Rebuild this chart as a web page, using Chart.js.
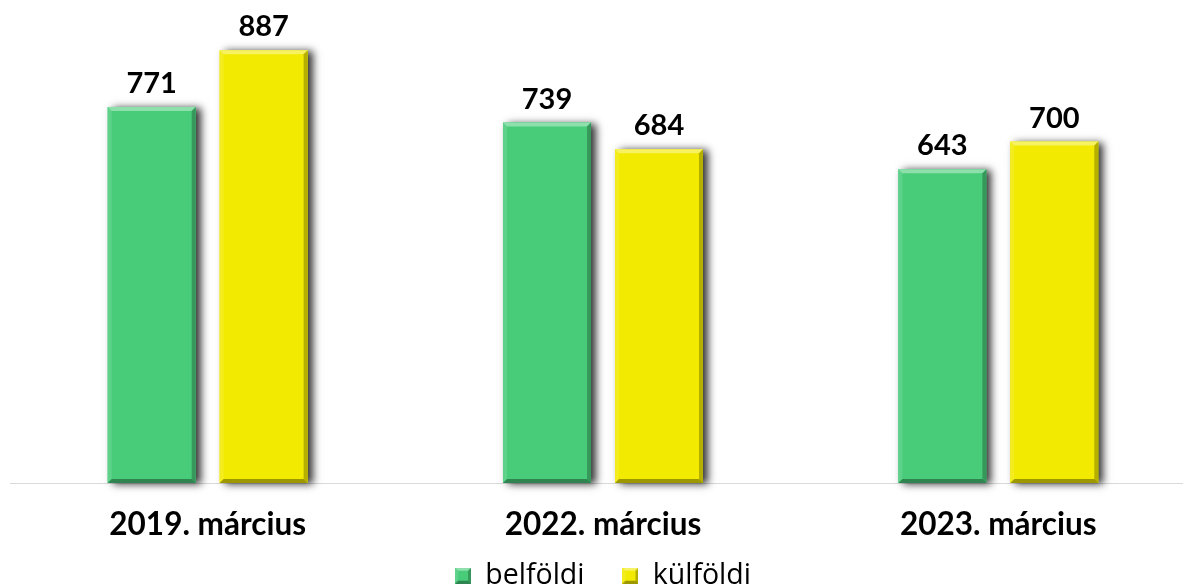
<!DOCTYPE html>
<html>
<head>
<meta charset="utf-8">
<script src="https://cdn.jsdelivr.net/npm/chart.js@4.4.0/dist/chart.umd.min.js"></script>
<style>
  html, body { margin: 0; padding: 0; background: #fff; overflow: hidden; }
  #wrap { width: 1196px; height: 587px; }
</style>
</head>
<body>
<div id="wrap"><canvas id="c" width="1196" height="587"></canvas></div>
<script>
const categories = ['2019. március', '2022. március', '2023. március'];
const belfoldi = [771, 739, 643];
const kulfoldi = [887, 684, 700];
const seriesNames = ['belföldi', 'külföldi'];
const colors = ['#48CC7A', '#F2EA00'];

function bevelPaths(ctx, l, t, r, b, s) {
  ctx.fillStyle = 'rgba(255,255,255,0.38)';
  ctx.beginPath(); ctx.moveTo(l, t); ctx.lineTo(r, t); ctx.lineTo(r - s, t + s); ctx.lineTo(l + s, t + s); ctx.closePath(); ctx.fill();
  ctx.fillStyle = 'rgba(255,255,255,0.12)';
  ctx.beginPath(); ctx.moveTo(l, t); ctx.lineTo(l + s, t + s); ctx.lineTo(l + s, b - s); ctx.lineTo(l, b); ctx.closePath(); ctx.fill();
  ctx.fillStyle = 'rgba(0,0,0,0.25)';
  ctx.beginPath(); ctx.moveTo(r, t); ctx.lineTo(r, b); ctx.lineTo(r - s, b - s); ctx.lineTo(r - s, t + s); ctx.closePath(); ctx.fill();
  ctx.fillStyle = 'rgba(0,0,0,0.35)';
  ctx.beginPath(); ctx.moveTo(l, b); ctx.lineTo(r, b); ctx.lineTo(r - s, b - s); ctx.lineTo(l + s, b - s); ctx.closePath(); ctx.fill();
}

function makeLegendBox(color) {
  const cv = document.createElement('canvas');
  cv.width = 16; cv.height = 16;
  const c = cv.getContext('2d');
  c.fillStyle = color;
  c.fillRect(0, 0, 16, 16);
  bevelPaths(c, 0, 0, 16, 16, 3);
  return cv;
}
const legendBoxes = colors.map(makeLegendBox);

const barFx = {
  id: 'barFx',
  beforeDatasetsDraw(chart) {
    const ctx = chart.ctx;
    chart.data.datasets.forEach((ds, di) => {
      const meta = chart.getDatasetMeta(di);
      meta.data.forEach(bar => {
        const p = bar.getProps(['x', 'y', 'base', 'width'], true);
        const l = p.x - p.width / 2, r = p.x + p.width / 2;
        ctx.save();
        ctx.shadowColor = 'rgba(0,0,0,0.8)';
        ctx.shadowBlur = 8;
        ctx.shadowOffsetX = 5;
        ctx.shadowOffsetY = 1;
        ctx.fillStyle = ds.backgroundColor;
        ctx.fillRect(l, p.y, r - l, p.base - p.y);
        ctx.restore();
      });
    });
  },
  afterDatasetsDraw(chart) {
    const ctx = chart.ctx;
    chart.data.datasets.forEach((ds, di) => {
      const meta = chart.getDatasetMeta(di);
      meta.data.forEach((bar, i) => {
        const p = bar.getProps(['x', 'y', 'base', 'width'], true);
        const l = p.x - p.width / 2, r = p.x + p.width / 2;
        ctx.save();
        bevelPaths(ctx, l, p.y, r, p.base, 4);
        ctx.fillStyle = '#000';
        ctx.font = 'bold 29px Lato';
        ctx.textAlign = 'center';
        ctx.textBaseline = 'alphabetic';
        ctx.fillText(String(ds.data[i]), p.x, p.y - 14);
        ctx.restore();
      });
    });
  }
};

new Chart(document.getElementById('c'), {
  type: 'bar',
  data: {
    labels: categories,
    datasets: [
      { label: seriesNames[0], data: belfoldi, backgroundColor: colors[0], borderWidth: 0 },
      { label: seriesNames[1], data: kulfoldi, backgroundColor: colors[1], borderWidth: 0 }
    ]
  },
  options: {
    responsive: false,
    animation: false,
    layout: { padding: { left: 10, right: 0, top: 44, bottom: 0 } },
    datasets: { bar: { categoryPercentage: 0.5664, barPercentage: 0.786 } },
    scales: {
      x: {
        grid: { display: false, drawTicks: false },
        border: { display: true, color: '#d9d9d9', width: 1 },
        ticks: { color: '#000', font: { family: 'Lato', weight: 'bold', size: 31.5 }, padding: 23 },
        afterFit(scale) {
          scale.height = 40.5;
          scale._computeLabelArea = () => undefined;
        }
      },
      y: { display: false, min: 0, max: 900 }
    },
    plugins: {
      tooltip: { enabled: false },
      legend: {
        position: 'bottom',
        maxHeight: 63.5,
        labels: {
          color: '#111',
          font: { family: 'Open Sans', size: 28.5 },
          padding: 38,
          boxWidth: 16,
          boxHeight: 16,
          usePointStyle: true,
          generateLabels(chart) {
            return chart.data.datasets.map((ds, i) => ({
              text: ds.label,
              fillStyle: ds.backgroundColor,
              strokeStyle: ds.backgroundColor,
              lineWidth: 0,
              pointStyle: legendBoxes[i],
              hidden: false,
              datasetIndex: i
            }));
          }
        }
      }
    }
  },
  plugins: [barFx]
});
</script>
</body>
</html>
